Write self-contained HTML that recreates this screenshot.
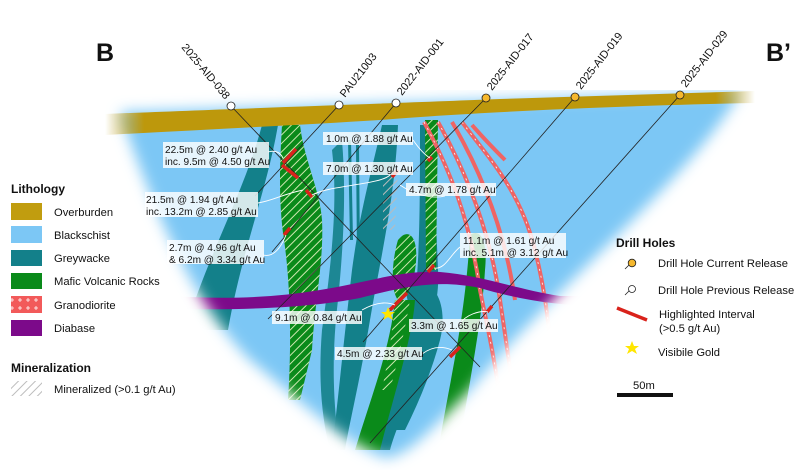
<!DOCTYPE html>
<html><head><meta charset="utf-8"><style>
html,body{margin:0;padding:0;background:#fff;width:800px;height:471px;overflow:hidden}
svg{display:block}
text{font-family:"Liberation Sans",sans-serif}
.lb{font-size:10.1px;fill:#111}
.lg{font-size:11.2px;fill:#111}
</style></head><body>
<svg width="800" height="471" viewBox="0 0 800 471" xmlns="http://www.w3.org/2000/svg">
<defs>
<pattern id="h" width="6" height="6" patternUnits="userSpaceOnUse" patternTransform="rotate(45)">
<line x1="0" y1="0" x2="0" y2="6" stroke="#cfe8b0" stroke-width="2"/></pattern>
<pattern id="hg" width="6" height="6" patternUnits="userSpaceOnUse" patternTransform="rotate(45)">
<line x1="0" y1="0" x2="0" y2="6" stroke="#bbb" stroke-width="2"/></pattern>
<pattern id="gr" width="8" height="8" patternUnits="userSpaceOnUse">
<rect width="8" height="8" fill="#f25a5a"/><path d="M4 2v4M2 4h4" stroke="#fff" stroke-width="0.8"/></pattern>
<filter id="blur" x="-20%" y="-20%" width="140%" height="140%"><feGaussianBlur stdDeviation="7"/></filter>
<mask id="m"><path d="M120 112 L740 92 C690 180 560 280 470 390 C430 430 410 455 385 458 C340 440 300 400 250 360 C190 300 150 200 120 112Z" fill="#fff" filter="url(#blur)"/></mask>
<linearGradient id="fg" x1="0" x2="1"><stop offset="0" stop-color="#fff" stop-opacity="0"/><stop offset="0.06" stop-color="#fff"/><stop offset="0.94" stop-color="#fff"/><stop offset="1" stop-color="#fff" stop-opacity="0"/></linearGradient>
<mask id="m2"><rect x="105" y="80" width="650" height="60" fill="url(#fg)"/></mask>
</defs>
<g mask="url(#m)">
<rect x="100" y="90" width="660" height="380" fill="#7cc7f5"/>
<path d="M262 125 L278 125 C267 190 242 250 228 330 L185 330 C210 250 245 190 262 125Z" fill="#13808a"/>
<path d="M332 150 C338 200 332 260 322 330 C318 380 322 420 330 450 L340 450 C332 400 332 350 338 300 C344 240 346 190 342 140Z" fill="#13808a" opacity="0.9"/>
<path d="M382 125 L398 125 C395 200 380 260 370 320 C360 380 350 420 345 450 L332 450 C338 400 345 330 352 270 C360 210 372 170 382 125Z" fill="#13808a"/>
<path d="M420 125 L432 125 L438 270 C440 300 430 330 420 360 C410 400 395 430 390 450 L372 450 C385 400 405 350 415 300 C420 250 420 200 420 125Z" fill="#13808a"/>
<path d="M405 290 C430 270 450 300 440 340 C432 370 420 400 405 430 L385 430 C400 390 420 340 405 290Z" fill="#13808a"/>
<path d="M348 140 L351 140 L353 240 L350 240Z M356 145 L359 145 L360 260 L357 260Z" fill="#13808a"/>
<path d="M282 125 L300 125 C304 160 320 190 322 220 C324 260 315 300 312 350 L300 400 L288 400 C292 340 290 280 284 240 C278 200 280 160 282 125Z" fill="#0a8a1a"/>
<path d="M282 125 L300 125 C304 160 320 190 322 220 C324 260 315 300 312 350 L300 400 L288 400 C292 340 290 280 284 240 C278 200 280 160 282 125Z" fill="url(#h)"/>
<path d="M425 120 L438 120 L436 270 L426 270Z" fill="#0a8a1a"/>
<path d="M425 120 L438 120 L436 270 L426 270Z" fill="url(#h)"/>
<path d="M398 240 C410 225 420 240 415 270 C412 290 405 300 398 300 C390 290 392 260 398 240Z" fill="#0a8a1a"/>
<path d="M398 240 C410 225 420 240 415 270 C412 290 405 300 398 300 C390 290 392 260 398 240Z" fill="url(#h)"/>
<path d="M395 300 L415 300 C412 340 395 390 380 450 L355 450 C370 400 390 350 395 300Z" fill="#0a8a1a"/>
<path d="M395 300 L410 300 C405 330 398 360 390 390 L382 390 C388 360 393 330 395 300Z" fill="url(#h)"/>
<path d="M470 235 C480 228 488 240 485 270 C482 320 470 380 460 440 L440 440 C450 380 465 320 470 235Z" fill="#0a8a1a"/>
<path d="M383 180 L398 170 L395 230 L383 230Z" fill="url(#hg)"/>
<g fill="none" stroke="#ef6464" stroke-width="4">
<path d="M424 122 C450 170 470 220 480 290 C488 330 495 360 500 400"/>
<path d="M438 122 C465 170 490 230 500 300 C506 340 510 370 515 400"/>
<path d="M452 122 C480 170 505 230 515 300"/>
<path d="M462 122 C490 160 520 190 535 250 C545 290 548 320 550 340"/>
<path d="M472 125 C485 140 495 150 505 160"/>
</g>
<g fill="none" stroke="#fff" stroke-width="0.8" stroke-dasharray="2 5">
<path d="M424 122 C450 170 470 220 480 290 C488 330 495 360 500 400"/>
<path d="M438 122 C465 170 490 230 500 300 C506 340 510 370 515 400"/>
<path d="M462 122 C490 160 520 190 535 250 C545 290 548 320 550 340"/>
</g>
<path d="M120 292 C200 300 260 300 320 290 C370 282 400 270 440 272 C480 275 520 290 560 296 L600 296 L600 306 C560 306 520 300 480 288 C440 280 410 285 360 298 C300 310 200 312 120 306Z" fill="#7c0a8a"/>
</g>
<path mask="url(#m2)" d="M105 114 C200 110 400 103 500 99 L755 91 L755 103 C600 106 450 114 380 120 C300 125 200 130 105 135Z" fill="#bd980c"/>
<g stroke="#222" stroke-width="0.8" fill="none">
<line x1="231" y1="106" x2="480" y2="367"/>
<line x1="339" y1="105" x2="255" y2="196"/>
<line x1="396" y1="103" x2="272" y2="252"/>
<line x1="486" y1="98" x2="268" y2="319"/>
<line x1="575" y1="97" x2="363" y2="342"/>
<line x1="680" y1="95" x2="370" y2="443"/>
</g>
<g stroke="#d9221b" stroke-width="3.5">
<line x1="283" y1="163" x2="296" y2="149"/>
<line x1="282" y1="165" x2="298" y2="178"/>
<line x1="306" y1="190" x2="312" y2="197"/>
<line x1="284" y1="235" x2="290" y2="228"/>
<line x1="390" y1="310" x2="407" y2="293"/>
<line x1="392" y1="177" x2="398" y2="170"/>
<line x1="428" y1="272" x2="434" y2="265"/>
<line x1="428" y1="161" x2="432" y2="157"/>
<line x1="450" y1="357" x2="460" y2="347"/>
<line x1="487" y1="312" x2="492" y2="306"/>
</g>
<polygon points="388,307 390,312 395,312 391,315 393,320 388,317 383,320 385,315 381,312 386,312" fill="#ffe600"/>
<g stroke="#222" stroke-width="0.8">
<circle cx="231" cy="106" r="4" fill="#fff"/><circle cx="339" cy="105" r="4" fill="#fff"/><circle cx="396" cy="103" r="4" fill="#fff"/>
<circle cx="486" cy="98" r="4" fill="#f5b82e"/><circle cx="575" cy="97" r="4" fill="#f5b82e"/><circle cx="680" cy="95" r="4" fill="#f5b82e"/>
</g>
<g font-size="11" fill="#111">
<text transform="translate(225,100) rotate(50)" text-anchor="end">2025-AID-038</text>
<text transform="translate(345,98) rotate(-52)">PAU21003</text>
<text transform="translate(402,96) rotate(-52)">2022-AID-001</text>
<text transform="translate(492,91) rotate(-52)">2025-AID-017</text>
<text transform="translate(581,90) rotate(-52)">2025-AID-019</text>
<text transform="translate(686,88) rotate(-52)">2025-AID-029</text>
</g>
<g stroke="#fff" stroke-width="0.9" fill="none">
<path d="M268 152 C275 150 280 152 283 158"/><path d="M258 203 C275 200 280 195 303 190"/>
<path d="M263 255 C275 258 282 245 286 235"/><path d="M413 140 C420 150 425 155 430 158"/>
<path d="M390 175 C380 185 330 185 312 195"/><path d="M445 196 C430 200 410 192 400 185"/>
<path d="M460 247 C450 255 445 270 434 268"/><path d="M362 310 C380 300 390 303 395 305"/>
<path d="M460 324 C465 315 480 310 488 312"/><path d="M422 354 C430 348 440 345 452 350"/>
</g>
<g fill="#fff" fill-opacity="0.82">
<rect x="163" y="142" width="106" height="26"/><rect x="145" y="192" width="113" height="25"/>
<rect x="167" y="240" width="97" height="24"/><rect x="323" y="132" width="90" height="13"/>
<rect x="323" y="162" width="90" height="13"/><rect x="406" y="183" width="90" height="13"/>
<rect x="460" y="233" width="106" height="25"/><rect x="272" y="311" width="90" height="13"/>
<rect x="409" y="319" width="89" height="13"/><rect x="335" y="347" width="87" height="13"/>
</g>
<g>
<text x="165" y="153" class="lb">22.5m @ 2.40 g/t Au</text><text x="165" y="165" class="lb">inc. 9.5m @ 4.50 g/t Au</text>
<text x="146" y="203" class="lb">21.5m @ 1.94 g/t Au</text><text x="146" y="215" class="lb">inc. 13.2m @ 2.85 g/t Au</text>
<text x="169" y="251" class="lb">2.7m @ 4.96 g/t Au</text><text x="169" y="263" class="lb">&amp; 6.2m @ 3.34 g/t Au</text>
<text x="326" y="142" class="lb">1.0m @ 1.88 g/t Au</text><text x="326" y="172" class="lb">7.0m @ 1.30 g/t Au</text>
<text x="409" y="193" class="lb">4.7m @ 1.78 g/t Au</text>
<text x="463" y="244" class="lb">11.1m @ 1.61 g/t Au</text><text x="463" y="256" class="lb">inc. 5.1m @ 3.12 g/t Au</text>
<text x="275" y="321" class="lb">9.1m @ 0.84 g/t Au</text><text x="411" y="329" class="lb">3.3m @ 1.65 g/t Au</text>
<text x="337" y="357" class="lb">4.5m @ 2.33 g/t Au</text>
</g>
<text x="96" y="61" font-size="25" font-weight="bold" fill="#111">B</text>
<text x="766" y="61" font-size="25" font-weight="bold" fill="#111">B’</text>
<text x="11" y="193" font-size="12" font-weight="bold" fill="#111">Lithology</text>
<rect x="11" y="203" width="31" height="17" fill="#c19d0f"/><text x="54" y="216" class="lg">Overburden</text>
<rect x="11" y="226" width="31" height="17" fill="#7cc7f5"/><text x="54" y="239" class="lg">Blackschist</text>
<rect x="11" y="250" width="31" height="16" fill="#13808a"/><text x="54" y="262" class="lg">Greywacke</text>
<rect x="11" y="273" width="31" height="16" fill="#0a8a1a"/><text x="54" y="285" class="lg">Mafic Volcanic Rocks</text>
<rect x="11" y="296" width="31" height="17" fill="url(#gr)"/><text x="54" y="309" class="lg">Granodiorite</text>
<rect x="11" y="320" width="31" height="16" fill="#7c0a8a"/><text x="54" y="332" class="lg">Diabase</text>
<text x="11" y="372" font-size="12" font-weight="bold" fill="#111">Mineralization</text>
<rect x="11" y="381" width="31" height="15" fill="url(#hg)"/><text x="54" y="393" class="lg">Mineralized (&gt;0.1 g/t Au)</text>
<text x="616" y="247" font-size="12" font-weight="bold" fill="#111">Drill Holes</text>
<line x1="625" y1="269" x2="630" y2="264" stroke="#222" stroke-width="0.8"/><circle cx="632" cy="263" r="3.8" fill="#f5b82e" stroke="#222" stroke-width="0.8"/>
<text x="658" y="267" class="lg">Drill Hole Current Release</text>
<line x1="625" y1="295" x2="630" y2="290" stroke="#222" stroke-width="0.8"/><circle cx="632" cy="289" r="3.5" fill="#fff" stroke="#222" stroke-width="0.8"/>
<text x="658" y="294" class="lg">Drill Hole Previous Release</text>
<line x1="617" y1="308" x2="647" y2="320" stroke="#d9221b" stroke-width="3.5"/>
<text x="659" y="318" class="lg">Highlighted Interval</text><text x="659" y="332" class="lg">(&gt;0.5 g/t Au)</text>
<polygon points="632,341 634,346 639,346 635,349 637,354 632,351 627,354 629,349 625,346 630,346" fill="#ffe600"/>
<text x="658" y="356" class="lg">Visibile Gold</text>
<text x="633" y="389" class="lg">50m</text>
<rect x="617" y="393" width="56" height="4" fill="#111"/>
</svg>
</body></html>
